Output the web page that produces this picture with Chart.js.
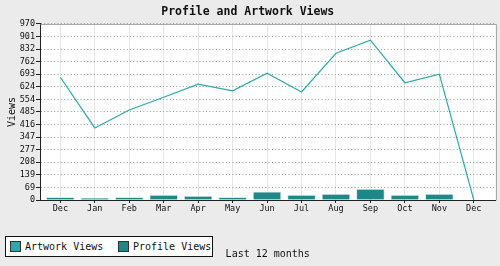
<!DOCTYPE html>
<html><head><meta charset="utf-8">
<script src="https://cdn.jsdelivr.net/npm/chart.js@4/dist/chart.umd.min.js"></script>
<style>
html,body{margin:0;padding:0;background:#ebebeb;}
#wrap{position:relative;width:500px;height:266px;overflow:hidden;background:#ebebeb;}
canvas{display:block;}
#legend{position:absolute;left:5px;top:236px;width:206px;height:19px;border:1px solid #111;background:#fff;font:10px 'DejaVu Sans Mono',monospace;color:#111;}
.item{position:absolute;top:0;height:19px;white-space:nowrap;}
.sw{position:absolute;top:4px;left:0;width:9px;height:9px;border:1px solid #333;}
.lbl{position:absolute;left:15px;top:0;line-height:19px;}
</style></head>
<body>
<div id="wrap">
<canvas id="c" width="500" height="266"></canvas>
<div id="legend"></div>
</div>
<script>
const months = ['Dec','Jan','Feb','Mar','Apr','May','Jun','Jul','Aug','Sep','Oct','Nov','Dec'];
const artworkViews = [676,397,496,566,638,601,698,595,808,880,646,693,0];
const profileViews = [15,9,15,27,22,15,45,27,33,60,27,33,null];
const yTickLabels = ['0','69','139','208','277','347','416','485','554','624','693','762','832','901','970'];
const yMax = 970;

const artColor = '#29abab';
const profColor = '#1e8787';
const textColor = '#111';
const mono = "'DejaVu Sans Mono', monospace";

const framePlugin = {
  id: 'frame',
  beforeDraw(chart) {
    const {ctx, chartArea: a} = chart;
    ctx.save();
    ctx.fillStyle = '#ebebeb';
    ctx.fillRect(0, 0, chart.width, chart.height);
    ctx.fillStyle = '#ffffff';
    ctx.fillRect(a.left, a.top, a.right - a.left, a.bottom - a.top);
    ctx.restore();
  },
  afterDraw(chart) {
    const {ctx, chartArea: a} = chart;
    ctx.save();
    ctx.strokeStyle = '#a8a8a8';
    ctx.lineWidth = 1;
    ctx.beginPath();
    ctx.moveTo(Math.round(a.left) + 0.5, Math.round(a.top) + 0.5);
    ctx.lineTo(Math.round(a.right) + 0.5, Math.round(a.top) + 0.5);
    ctx.lineTo(Math.round(a.right) + 0.5, Math.round(a.bottom) + 0.5);
    ctx.stroke();
    ctx.restore();
  }
};

const chart = new Chart(document.getElementById('c'), {
  type: 'bar',
  data: {
    datasets: [
      {
        type: 'line',
        label: 'Artwork Views',
        data: artworkViews.map((v, i) => ({x: i, y: v})),
        borderColor: artColor,
        backgroundColor: artColor,
        borderWidth: 1.2,
        pointRadius: 0,
        tension: 0,
        order: 0
      },
      {
        type: 'bar',
        label: 'Profile Views',
        data: profileViews.map((v, i) => ({x: i, y: v})),
        backgroundColor: profColor,
        borderColor: '#dcebeb',
        borderWidth: 1,
        barThickness: 28,
        order: 1
      }
    ]
  },
  options: {
    responsive: false,
    devicePixelRatio: 1,
    animation: false,
    layout: {padding: {left: 0, right: 4.5, top: 0, bottom: 0}},
    plugins: {
      legend: {display: false},
      tooltip: {enabled: false},
      title: {
        display: true,
        text: 'Profile and Artwork Views',
        color: textColor,
        font: {family: mono, size: 11.5, weight: 'bold'},
        padding: {top: 4.8, bottom: 5.3}
      }
    },
    scales: {
      x: {
        type: 'linear',
        offset: false,
        min: -0.59,
        max: 12.63,
        afterFit(s) { s.height = 66; },
        afterBuildTicks(s) { s.ticks = months.map((m, i) => ({value: i})); },
        ticks: {
          color: textColor,
          font: {family: mono, size: 8.5},
          padding: 1,
          maxRotation: 0,
          autoSkip: false,
          callback: (v, i) => months[i]
        },
        grid: {offset: false, color: '#e6e6e6', lineWidth: 1, tickLength: 3, tickColor: '#222'},
        border: {color: '#222', width: 1},
        title: {
          display: true,
          text: 'Last 12 months',
          color: textColor,
          font: {family: mono, size: 10},
          padding: {top: 0, bottom: 5.5}
        }
      },
      y: {
        min: 0,
        max: yMax,
        afterFit(s) { s.width = 40; },
        afterBuildTicks(s) { s.ticks = yTickLabels.map((l, i) => ({value: i * yMax / (yTickLabels.length - 1)})); },
        ticks: {
          color: textColor,
          font: {family: mono, size: 8.5},
          padding: 1,
          autoSkip: false,
          callback: (v, i) => yTickLabels[i]
        },
        grid: {color: '#999', lineWidth: 1, tickLength: 4, tickColor: '#222', tickBorderDash: []},
        border: {color: '#222', width: 1, dash: [1, 2.3]},
        title: {
          display: true,
          text: 'Views',
          color: textColor,
          font: {family: mono, size: 10},
          padding: {top: 6, bottom: 0}
        }
      }
    }
  },
  plugins: [framePlugin]
});

// HTML legend built from the chart's datasets
const legendEl = document.getElementById('legend');
const legendX = [4, 112];
chart.data.datasets.forEach((ds, i) => {
  const item = document.createElement('div');
  item.className = 'item';
  item.style.left = legendX[i] + 'px';
  const sw = document.createElement('span');
  sw.className = 'sw';
  sw.style.background = ds.type === 'line' ? ds.borderColor : ds.backgroundColor;
  const lbl = document.createElement('span');
  lbl.className = 'lbl';
  lbl.textContent = ds.label;
  item.appendChild(sw);
  item.appendChild(lbl);
  legendEl.appendChild(item);
});
</script>
</body></html>
